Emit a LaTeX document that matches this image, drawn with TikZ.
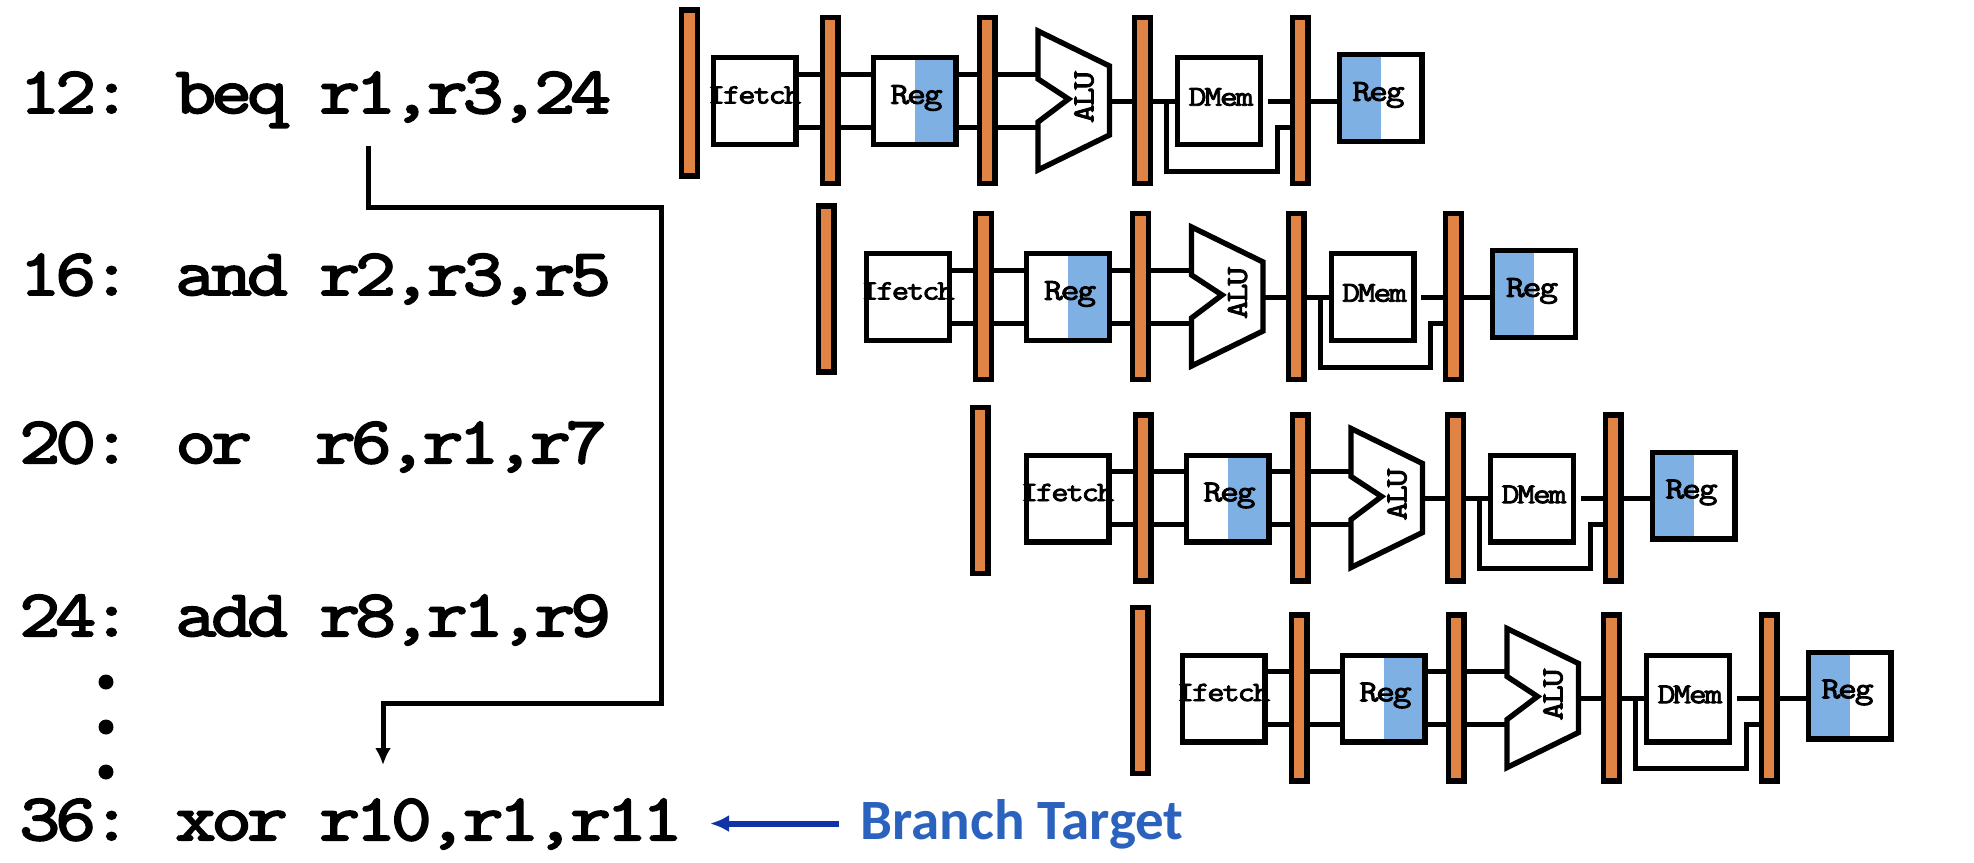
\documentclass[tikz,border=0pt]{standalone}
\usepackage{fontspec}
\newfontfamily\targetfont{Carlito}
\newfontfamily\codefont[FakeBold=3,FakeStretch=1.2,LetterSpace=-7.5,WordSpace=0.88]{Latin Modern Mono}
\usetikzlibrary{arrows.meta,backgrounds}
\definecolor{barorange}{HTML}{DF8444}
\definecolor{regblue}{HTML}{7EB0E4}
\definecolor{arrowblue}{HTML}{1033A6}
\definecolor{targetblue}{HTML}{2B62BD}
\tikzset{
  wire/.style={line width=2.5pt},
  stagebar/.style={rectangle,draw,line width=2.7pt,fill=barorange,minimum width=7.8pt,minimum height=83pt,inner sep=0pt},
  unitbox/.style={rectangle,draw,line width=2.7pt,fill=white,minimum width=41.3pt,minimum height=43.3pt,inner sep=0pt},
  unittext/.style={font=\codefont\fontsize{#1}{#1}\selectfont,inner sep=0pt},
  regright/.style={path picture={\fill[regblue] (path picture bounding box.north) rectangle (path picture bounding box.south east);}},
  regleft/.style={path picture={\fill[regblue] (path picture bounding box.south west) rectangle (path picture bounding box.north);}},
  instr/.style={anchor=base west,inner sep=0pt,font=\codefont\fontsize{33}{36}\selectfont},
  dotmark/.style={circle,fill,inner sep=0pt,minimum size=7.5pt}
}
\begin{document}
\begin{tikzpicture}[x=0.5pt,y=-0.5pt]
\useasboundingbox (0,0) rectangle (1974,862);
\node[instr] (beq) at (19,113) {12: beq r1,r3,24};
\node[instr] (and) at (19,295) {16: and r2,r3,r5};
\node[instr] (or) at (19,463) {20: or\ \ r6,r1,r7};
\node[instr] (add) at (19,636) {24: add r8,r1,r9};
\node[instr] (xor) at (19,840) {36: xor r10,r1,r11};
\node[dotmark] (dota) at (106,682) {};
\node[dotmark] (dotb) at (106,727) {};
\node[dotmark] (dotc) at (106,772) {};
\coordinate (brfrom) at (368,146);
\coordinate (brright) at (661,207);
\coordinate (brleft) at (661,703);
\coordinate (brto) at (383,765);
\draw[wire,-{Latex[length=8.5pt,width=8pt]}] (brfrom) |- (brright) -- (brleft) -| (brto);
\node[inner sep=0pt,anchor=base west,text=targetblue,font=\targetfont\bfseries\fontsize{28.5}{30}\selectfont] (target) at (860,839.5) {Branch Target};
\draw[line width=3pt,arrowblue,-{Latex[length=9.5pt,width=8.5pt]},shorten <=10.5pt,shorten >=13.5pt] ([yshift=0.4pt]target.west) -- ([yshift=0.4pt]target.west -| xor.east);
\foreach \row/\dx/\dy/\barx in {1/0/0/689.5,2/153.5/196/672.5,3/313/397.5/667,4/469/597.5/671}{
\begin{scope}[shift={(\dx,\dy)}]
\node[stagebar] (barif\row) at (\barx,93) {};
\node[stagebar] (barid\row) at (830,100.5) {};
\node[stagebar] (barex\row) at (987,100.5) {};
\node[stagebar] (barmem\row) at (1142.5,100.5) {};
\node[stagebar] (barwb\row) at (1300,100.5) {};
\node[unitbox,label={[unittext=14,yshift=3pt]center:\makebox[0pt]{Ifetch}}] (ifetch\row) at (754.5,101) {};
\node[unitbox,regright,label={[unittext=15.3,yshift=1.5pt,xshift=1pt]center:Reg}] (reg\row) at (914.5,101) {};
\node[unitbox,label={[unittext=14.4,yshift=2pt,xshift=1pt]center:DMem}] (dmem\row) at (1219,101) {};
\node[unitbox,regleft,label={[unittext=15.3,yshift=1.5pt,xshift=-1pt]center:Reg}] (regw\row) at (1380.5,98) {};
\draw[line width=2.7pt,fill=white] (1038,31) -- (1109.5,66) -- (1109.5,135) -- (1038,170) -- (1038,122) -- (1068.5,99) -- (1038,79) -- cycle;
\node[unittext=15.3,rotate=90] (alu\row) at (1084,97) {ALU};
\coordinate (aluhi\row) at (1038,74);
\coordinate (alulo\row) at (1038,127);
\coordinate (aluout\row) at (1109.5,101);
\coordinate (dmemout\row) at (1267.5,101);
\coordinate (looptap\row) at (1166.5,101);
\coordinate (loopmid\row) at (1277,171);
\coordinate (loopend\row) at (1290.5,127);
\begin{scope}[on background layer]
\draw[wire] ([yshift=13.5pt]ifetch\row.east) -- ([yshift=13.5pt]reg\row.west);
\draw[wire] ([yshift=-13pt]ifetch\row.east) -- ([yshift=-13pt]reg\row.west);
\draw[wire] ([yshift=13.5pt]reg\row.east) -- (aluhi\row);
\draw[wire] ([yshift=-13pt]reg\row.east) -- (alulo\row);
\draw[wire] (aluout\row) -- (dmem\row.west);
\draw[wire] (dmemout\row) -- (dmemout\row -| regw\row.west);
\draw[wire] (looptap\row) |- (loopmid\row) |- (loopend\row);
\end{scope}
\end{scope}
}
\end{tikzpicture}
\end{document}
